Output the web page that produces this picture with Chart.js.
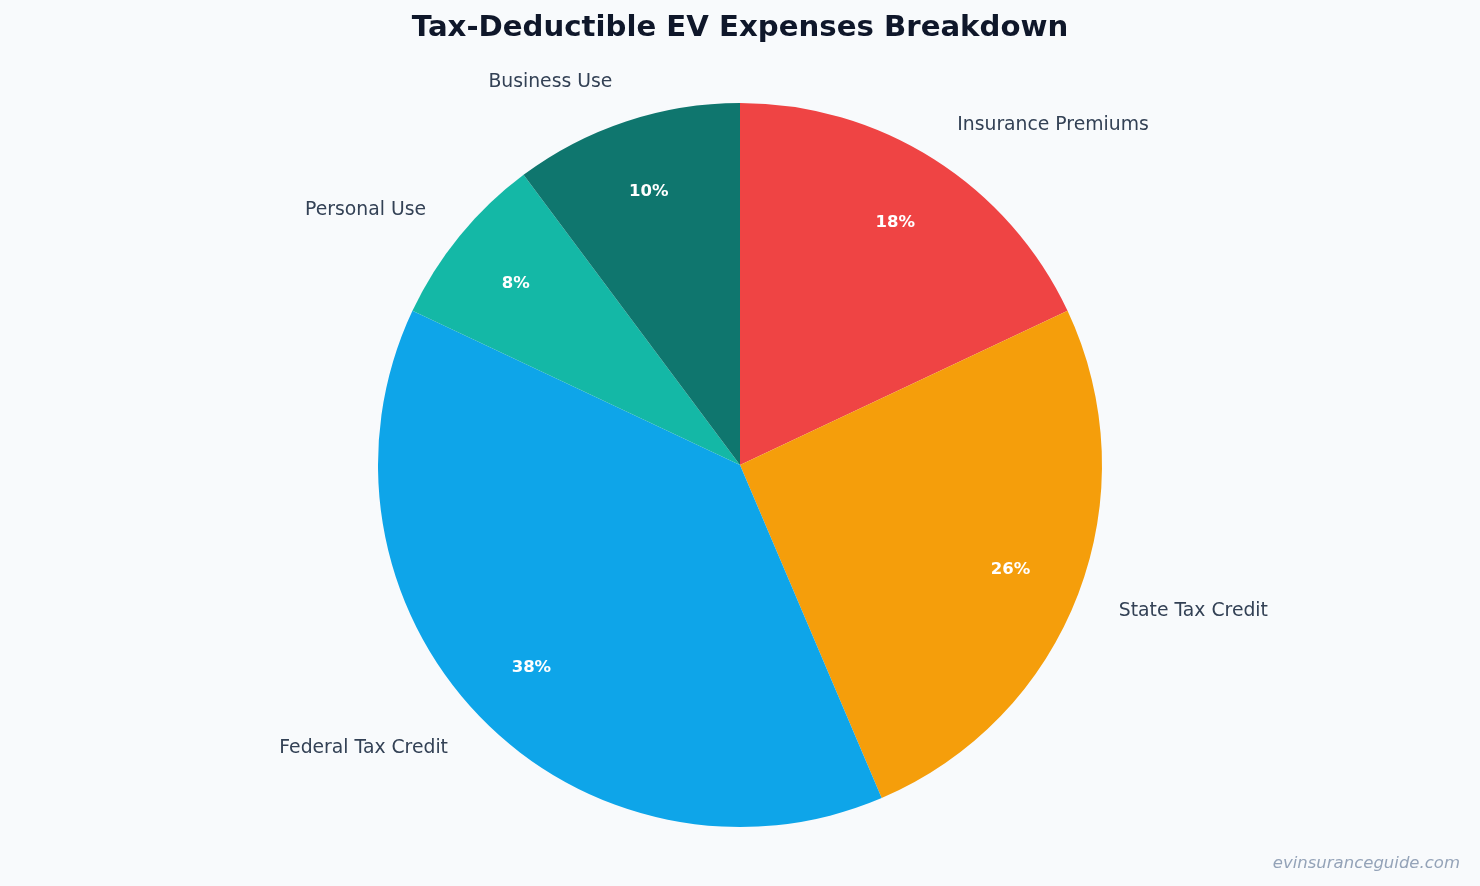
<!DOCTYPE html>
<html>
<head>
<meta charset="utf-8">
<script src="https://cdn.jsdelivr.net/npm/chart.js@4.4.1/dist/chart.umd.min.js"></script>
<style>
  html, body { margin: 0; padding: 0; background: #f8fafc; }
  .wrap { width: 1480px; height: 886px; position: relative; }
</style>
</head>
<body>
<div class="wrap"><canvas class="js-chart"></canvas></div>
<script>
const categories = ['Insurance Premiums', 'State Tax Credit', 'Federal Tax Credit', 'Personal Use', 'Business Use'];
const shares = [18, 25.6, 38.4, 7.8, 10.2];
const sliceColors = ['#ef4444', '#f59e0b', '#0ea5e9', '#14b8a6', '#0f766e'];
const chartTitle = 'Tax-Deductible EV Expenses Breakdown';
const watermark = 'evinsuranceguide.com';

const FONT = '"DejaVu Sans", Verdana, sans-serif';
const TEXT_NUDGE = 2; // canvas 'middle' sits a bit higher than the reference

// labels outside the pie + percentages inside, matplotlib-style
const pieText = {
    id: 'pieText',
    afterDatasetsDraw(chart) {
        const c = chart.ctx;
        const arcs = chart.getDatasetMeta(0).data;
        const total = shares.reduce((a, b) => a + b, 0);
        c.save();
        arcs.forEach((arc, i) => {
            const mid = (arc.startAngle + arc.endAngle) / 2;
            const r = arc.outerRadius;
            const cos = Math.cos(mid), sin = Math.sin(mid);

            // percentage
            c.font = 'bold 16.5px ' + FONT;
            c.fillStyle = '#ffffff';
            c.textAlign = 'center';
            c.textBaseline = 'middle';
            const pct = Math.round(shares[i] / total * 100) + '%';
            c.fillText(pct, arc.x + cos * r * 0.8, arc.y + sin * r * 0.8 + TEXT_NUDGE);

            // category label
            c.font = '18.8px ' + FONT;
            c.fillStyle = '#334155';
            const lx = arc.x + cos * r * 1.12;
            const ly = arc.y + sin * r * 1.12 + TEXT_NUDGE;
            c.textAlign = cos >= 0 ? 'left' : 'right';
            c.fillText(categories[i], lx, ly);
        });

        c.font = 'bold 29.2px ' + FONT;
        c.fillStyle = '#0f172a';
        c.textAlign = 'center';
        c.textBaseline = 'middle';
        c.fillText(chartTitle, 740, 28);

        c.font = 'italic 16.5px ' + FONT;
        c.fillStyle = '#94a3b8';
        c.textAlign = 'right';
        c.fillText(watermark, 1460, 864);
        c.restore();
    }
};

const ctx = document.querySelector('.js-chart').getContext('2d');

new Chart(ctx, {
    type: 'pie',
    data: {
        labels: categories,
        datasets: [{
            data: shares,
            backgroundColor: sliceColors,
            borderWidth: 0
        }]
    },
    options: {
        responsive: true,
        maintainAspectRatio: false,
        animation: false,
        layout: { padding: { top: 103, bottom: 59, left: 0, right: 0 } },
        plugins: {
            legend: { display: false },
            title: { display: false },
            tooltip: { enabled: false }
        }
    },
    plugins: [pieText]
});
</script>
</body>
</html>
